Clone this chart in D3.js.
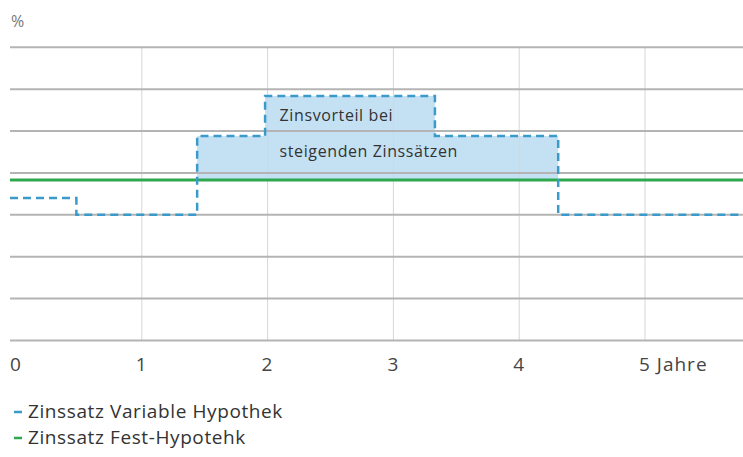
<!DOCTYPE html>
<meta charset="utf-8">
<style>
  body { margin: 0; background: #fff; }
  text { font-family: "Open Sans", "Noto Sans", sans-serif; }
</style>
<body>
<script src="https://d3js.org/d3.v7.min.js"></script>
<script>

var width = 743,
    height = 457;

// data
var years = [-0.05, 0.48, 1.44, 1.98, 3.33, 4.31, 5.85];
var variableRate = [3.4, 3.0, 4.88, 5.84, 4.88, 3.0, 3.0];
var fixedRate = 3.83;
var xTicks = [0, 1, 2, 3, 4, 5];
var xTickLabels = ["0", "1", "2", "3", "4", "5 Jahre"];
var yGrid = [0, 1, 2, 3, 4, 5, 6, 7];
var legendLabels = ["Zinssatz Variable Hypothek", "Zinssatz Fest-Hypotehk"];
var note = ["Zinsvorteil bei", "steigenden Zinssätzen"];

var blue = "#3a9bcb",
    green = "#2ea84f",
    fillBlue = "#c4e1f3";

var svg = d3.select("body").append("svg")
    .attr("width", width)
    .attr("height", height);

var x = d3.scaleLinear().domain([0, 5]).range([16, 645]);
var y = d3.scaleLinear().domain([0, 7]).range([340.5, 47.3]);

var left = 10, right = width;

var points = years.map(function(d, i) { return {x: d, v: variableRate[i]}; });

// shaded advantage area
var area = d3.area()
    .curve(d3.curveStepAfter)
    .x(d => Math.max(left, x(d.x)))
    .y0(y(fixedRate))
    .y1(d => y(Math.max(d.v, fixedRate)));

svg.append("path")
    .datum(points)
    .attr("d", area)
    .attr("fill", fillBlue);

// grid
svg.selectAll(".vgrid")
    .data(xTicks.slice(1))
    .enter().append("line")
        .attr("x1", d => x(d)).attr("x2", d => x(d))
        .attr("y1", y(7)).attr("y2", y(0))
        .attr("stroke", "#d6d6d6")
        .attr("stroke-width", 1);

svg.selectAll(".hgrid")
    .data(yGrid)
    .enter().append("line")
        .attr("x1", left).attr("x2", right)
        .attr("y1", d => y(d)).attr("y2", d => y(d))
        .attr("stroke", "#b4b4b4")
        .attr("stroke-width", 2);

// fixed rate
svg.append("line")
    .attr("x1", left).attr("x2", right)
    .attr("y1", y(fixedRate)).attr("y2", y(fixedRate))
    .attr("stroke", green)
    .attr("stroke-width", 3);

// variable rate
var line = d3.line()
    .curve(d3.curveStepAfter)
    .x(d => Math.max(left, x(d.x)))
    .y(d => y(d.v));

svg.append("path")
    .datum(points)
    .attr("d", line)
    .attr("fill", "none")
    .attr("stroke", blue)
    .attr("stroke-width", 2.5)
    .attr("stroke-dasharray", "8,5");

// annotation
svg.selectAll(".note")
    .data(note)
    .enter().append("text")
        .attr("x", x(2) + 12)
        .attr("y", (d, i) => 121 + i * 36)
        .attr("fill", "#333")
        .attr("font-size", 16)
        .attr("letter-spacing", 0.6)
        .text(d => d);

// axis labels
svg.selectAll(".xlab")
    .data(xTicks)
    .enter().append("text")
        .attr("x", d => x(d) - 6)
        .attr("y", 371)
        .attr("fill", "#444")
        .attr("font-size", 19)
        .attr("letter-spacing", 1)
        .text((d, i) => xTickLabels[i]);

svg.append("text")
    .attr("x", 11)
    .attr("y", 27)
    .attr("fill", "#777")
    .attr("font-size", 16)
    .text("%");

// legend
var legend = svg.selectAll(".legend")
    .data(legendLabels)
    .enter().append("g")
        .attr("transform", (d, i) => "translate(14," + (418 + i * 26) + ")");

legend.append("line")
    .attr("x1", 0).attr("x2", 8)
    .attr("y1", -6).attr("y2", -6)
    .attr("stroke", (d, i) => i ? green : blue)
    .attr("stroke-width", 2.5);

legend.append("text")
    .attr("x", 14)
    .attr("fill", "#333")
    .attr("font-size", 19)
    .attr("letter-spacing", 0.6)
    .text(d => d);

</script>
